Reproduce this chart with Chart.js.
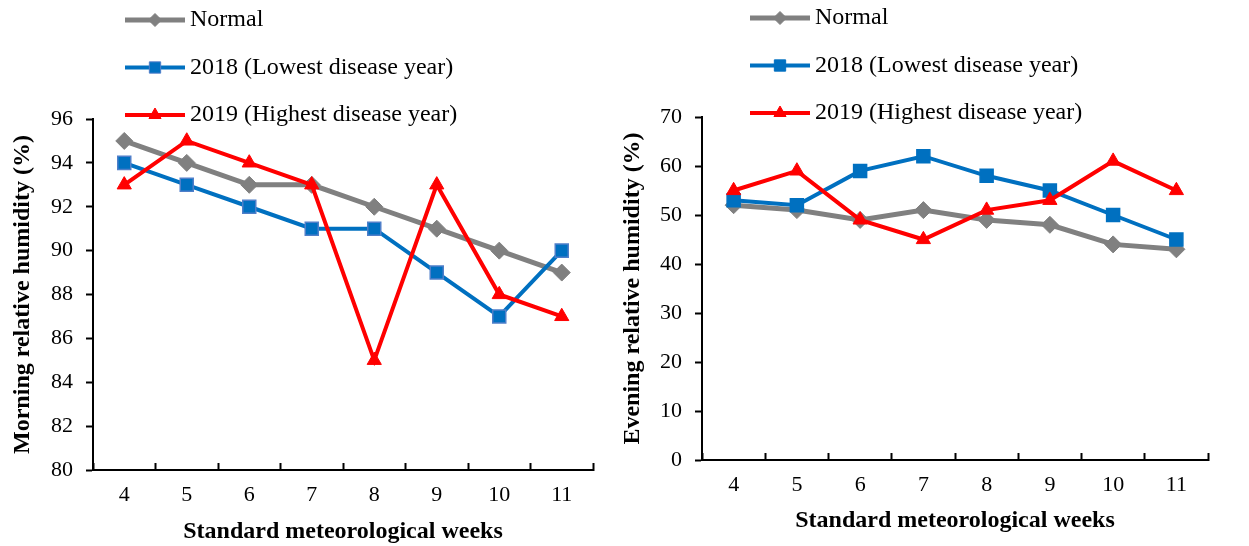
<!DOCTYPE html>
<html>
<head>
<meta charset="utf-8">
<title>Relative humidity by standard meteorological week</title>
<script src="https://cdn.jsdelivr.net/npm/chart.js@4/dist/chart.umd.min.js"></script>
<style>
  html, body { margin: 0; padding: 0; background: #fff; }
  #wrap { position: relative; width: 1249px; height: 546px; overflow: hidden; }
  .panel { position: absolute; top: 0; }
  #morningPanel { left: 0; width: 610px; height: 546px; }
  #eveningPanel { left: 610px; width: 639px; height: 546px; }
</style>
</head>
<body>
<div id="wrap">
  <div class="panel" id="morningPanel"><canvas id="morningChart" width="610" height="546"></canvas></div>
  <div class="panel" id="eveningPanel"><canvas id="eveningChart" width="639" height="546"></canvas></div>
</div>
<script>
// Standard meteorological weeks on the x axis
const weeks = ['4', '5', '6', '7', '8', '9', '10', '11'];

// Series names
const seriesNames = ['Normal', '2018 (Lowest disease year)', '2019 (Highest disease year)'];

// Morning relative humidity (%)
const morningNormal = [95, 94, 93, 93, 92, 91, 90, 89];
const morning2018   = [94, 93, 92, 91, 91, 89, 87, 90];
const morning2019   = [93, 95, 94, 93, 85, 93, 88, 87];

// Evening relative humidity (%)
const eveningNormal = [52, 51, 49, 51, 49, 48, 44, 43];
const evening2018   = [53, 52, 59, 62, 58, 55, 50, 45];
const evening2019   = [55, 59, 49, 45, 51, 53, 61, 55];

// Y axis tick values
const morningTicks = [80, 82, 84, 86, 88, 90, 92, 94, 96];
const eveningTicks = [0, 10, 20, 30, 40, 50, 60, 70];

const FONT = "'Liberation Serif', 'Times New Roman', Times, serif";
Chart.defaults.font.family = FONT;
Chart.defaults.color = '#000';

const styles = [
  { color: '#808080', point: 'rectRot',  radius: 8.5, width: 5, legendRadius: 6.5 },
  { color: '#0070C0', point: 'rect',     radius: 9.2, width: 4, legendRadius: 8 },
  { color: '#FF0000', point: 'triangle', radius: 8.2, width: 4, legendRadius: 7 }
];

// Legend drawn as a single column above the plot
const columnLegend = {
  id: 'columnLegend',
  afterDraw(chart, args, opts) {
    const ctx = chart.ctx;
    ctx.save();
    chart.data.datasets.forEach((ds, i) => {
      const y = opts.top + i * opts.rowGap;
      const x0 = opts.left;
      const x1 = opts.left + opts.lineLength;
      ctx.strokeStyle = ds.borderColor;
      ctx.lineWidth = i === 0 ? 5 : 4;
      ctx.lineCap = 'butt';
      ctx.beginPath();
      ctx.moveTo(x0, y);
      ctx.lineTo(x1, y);
      ctx.stroke();
      ctx.fillStyle = ds.pointBackgroundColor;
      ctx.strokeStyle = ds.pointBorderColor;
      ctx.lineWidth = 1;
      Chart.helpers.drawPoint(ctx, {
        pointStyle: ds.pointStyle,
        radius: styles[i].legendRadius,
        borderWidth: 1,
        rotation: 0
      }, (x0 + x1) / 2, y);
      ctx.fillStyle = '#000';
      ctx.font = opts.fontSize + 'px ' + FONT;
      ctx.textAlign = 'left';
      ctx.textBaseline = 'middle';
      ctx.fillText(ds.label, x1 + opts.gap, y);
    });
    ctx.restore();
  }
};

function buildDatasets(values, squareEdge) {
  // Later series are drawn on top of earlier ones
  return values.map((arr, i) => ({
    label: seriesNames[i],
    data: arr,
    borderColor: styles[i].color,
    backgroundColor: styles[i].color,
    pointBackgroundColor: styles[i].color,
    pointBorderColor: i === 1 ? squareEdge : styles[i].color,
    pointBorderWidth: i === 1 ? 1.5 : 1,
    borderWidth: styles[i].width,
    pointStyle: styles[i].point,
    pointRadius: styles[i].radius,
    pointHoverRadius: styles[i].radius,
    tension: 0,
    fill: false,
    order: values.length - i
  }));
}

function makeChart(id, values, yTicks, yTitle, geo) {
  const yMin = yTicks[0];
  const yMax = yTicks[yTicks.length - 1];
  const yStep = yTicks[1] - yTicks[0];
  return new Chart(document.getElementById(id), {
    type: 'line',
    data: { labels: weeks, datasets: buildDatasets(values, geo.squareEdge) },
    plugins: [columnLegend],
    options: {
      responsive: false,
      animation: false,
      events: [],
      layout: { padding: { left: 0, top: geo.top, right: geo.right, bottom: 0 } },
      plugins: {
        legend: { display: false },
        tooltip: { enabled: false },
        columnLegend: {
          left: geo.legendLeft, top: geo.legendTop, rowGap: geo.legendGap,
          lineLength: 60, gap: 5, fontSize: 24
        }
      },
      scales: {
        x: {
          type: 'category',
          offset: true,
          grid: {
            display: true,
            offset: true,
            drawOnChartArea: false,
            drawTicks: true,
            tickLength: -7,
            tickColor: '#000',
            tickWidth: 2
          },
          border: { display: true, color: '#000', width: 2 },
          ticks: { font: { size: 22 }, color: '#000', padding: geo.xTickPad, maxRotation: 0, autoSkip: false },
          title: {
            display: true,
            text: 'Standard meteorological weeks',
            font: { size: 24, weight: 'bold' },
            color: '#000',
            padding: { top: 0, bottom: geo.xTitleBottom }
          },
          afterFit(scale) { scale.height = geo.xHeight; }
        },
        y: {
          min: yMin,
          max: yMax,
          grid: {
            display: true,
            drawOnChartArea: false,
            drawTicks: true,
            tickLength: 7,
            tickColor: '#000',
            tickWidth: 2
          },
          border: { display: true, color: '#000', width: 2 },
          ticks: { stepSize: yStep, font: { size: 22 }, color: '#000', padding: 13 },
          title: {
            display: true,
            text: yTitle,
            font: { size: 24, weight: 'bold' },
            color: '#000',
            padding: { top: 8, bottom: 0 }
          },
          afterFit(scale) { scale.width = geo.yWidth; }
        }
      }
    }
  });
}

makeChart('morningChart', [morningNormal, morning2018, morning2019], morningTicks,
  'Morning relative humidity (%)',
  { top: 119, right: 17, yWidth: 93, xHeight: 76, xTickPad: 19, xTitleBottom: 0,
    legendLeft: 125, legendTop: 20, legendGap: 47.5, squareEdge: '#4F7FC9' });

makeChart('eveningChart', [eveningNormal, evening2018, evening2019], eveningTicks,
  'Evening relative humidity (%)',
  { top: 117, right: 41, yWidth: 92, xHeight: 86, xTickPad: 19, xTitleBottom: 11,
    legendLeft: 140, legendTop: 18, legendGap: 47.5, squareEdge: '#0070C0' });
</script>
</body>
</html>
